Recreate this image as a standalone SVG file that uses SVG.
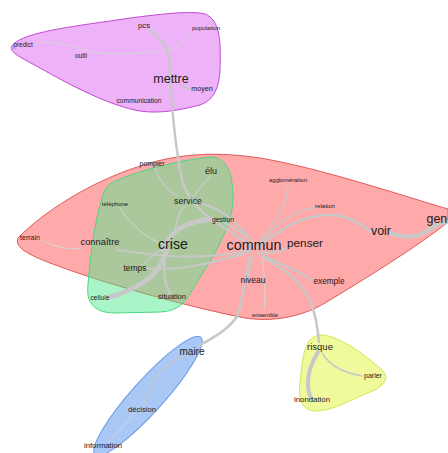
<svg xmlns="http://www.w3.org/2000/svg" width="448" height="453" viewBox="0 0 448 453">
<style>
.e{fill:none;stroke:#c8c8c8;stroke-linecap:round}
.f{fill:none;stroke:#d6d6d6;stroke-width:1;stroke-linecap:round}
text{font-family:"Liberation Sans",Arial,sans-serif;fill:#1a1a1a;text-anchor:middle}
</style>
<rect width="448" height="453" fill="#ffffff"/>
<g id="halos">
<path id="halo-purple" d="M12,46 C 20,34 60,28 110,21 C 150,15 190,10 205,14 C 220,20 221,40 220,70 C 219,88 214,100 200,105 C 180,110 160,114 140,111 C 110,106 70,85 40,68 C 22,58 8,52 12,46 Z" fill="#eeb2f8" stroke="#c24ad2" stroke-width="1"/>
<path id="halo-red" d="M18,238 C 40,215 90,180 150,163 C 185,153 220,152 260,158 C 320,168 400,195 448,209 L 448,222 C 420,245 360,282 325,303 C 300,318 270,322 245,318 C 180,305 100,282 50,263 C 30,255 14,248 18,238 Z" fill="#ffaaaa" stroke="#e05a5a" stroke-width="1"/>
<path id="halo-green" d="M113,182 C 140,170 180,160 210,157 C 228,157 233,175 233,200 C 232,225 215,255 195,285 C 188,298 182,311 160,312 L 115,313 C 92,313 86,300 88,285 C 90,255 96,215 103,195 C 105,188 108,185 113,182 Z" fill="#4aea8a" fill-opacity="0.47" stroke="#4ad880" stroke-width="1"/>
<ellipse id="halo-blue" cx="148" cy="396" rx="79" ry="16" transform="rotate(-48 148 396)" fill="#a9c8f5" stroke="#6a9be6" stroke-width="1"/>
<path id="halo-yellow" d="M322,335 C 340,336 365,355 382,370 C 390,378 385,386 370,392 C 350,400 335,410 317,411 C 302,411 298,400 300,383 C 302,365 303,348 310,340 C 314,336 318,335 322,335 Z" fill="#f0f99c" stroke="#d2e850" stroke-width="1"/>
</g>
<g id="connectors">
<path class="f" d="M35,43 C 60,40 75,48 90,52 C 110,55 140,54 170,50 C 180,45 185,40 192,33"/>
<path class="f" d="M150,100 C 160,95 165,90 170,86"/>
<path class="e" stroke-width="2.5" d="M150,30 C 165,42 170,50 170,75 L 172,105 C 174,130 178,160 182,180 C 186,195 200,215 225,228 C 240,238 248,244 253,248"/>
<path class="e" stroke-width="2" d="M182,84 C 185,88 188,89 192,89"/>
<path class="e" stroke-width="5" d="M163,250 C 168,235 180,222 212,219"/>
<path class="e" stroke-width="5" d="M167,250 C 160,270 150,285 110,297"/>
<path class="e" stroke-width="2.5" d="M166,252 C 162,270 165,285 170,293"/>
<path class="e" stroke-width="1.5" d="M160,250 C 150,258 145,262 142,265"/>
<path class="e" stroke-width="2" d="M175,235 C 176,220 180,210 185,206"/>
<path class="f" d="M120,208 C 130,225 150,240 162,244"/>
<path class="e" stroke-width="1.5" d="M192,198 C 198,190 205,182 210,177"/>
<path class="e" stroke-width="1.5" d="M155,168 C 160,180 165,190 178,196"/>
<path class="e" stroke-width="2" d="M200,203 C 220,208 238,222 250,240"/>
<path class="e" stroke-width="2" d="M225,223 C 240,230 248,238 252,242"/>
<path class="e" stroke-width="2" d="M118,250 C 150,255 200,262 250,250"/>
<path class="e" stroke-width="2" d="M145,268 C 180,272 215,262 250,252"/>
<path class="f" d="M38,238 C 55,248 70,250 82,248"/>
<path class="e" stroke-width="1.5" d="M258,244 C 270,225 285,215 288,186"/>
<path class="e" stroke-width="1.5" d="M258,246 C 275,225 290,212 315,207"/>
<path class="e" stroke-width="2.5" d="M256,248 C 280,230 300,215 330,215 C 350,215 360,225 372,232"/>
<path class="e" stroke-width="4" d="M390,233 C 405,238 415,238 425,232 C 435,226 440,222 448,222"/>
<path class="e" stroke-width="2" d="M258,252 C 275,255 282,250 290,247"/>
<path class="e" stroke-width="2" d="M260,255 C 285,265 300,272 312,280"/>
<path class="e" stroke-width="2" d="M252,256 C 250,265 248,272 248,277"/>
<path class="f" d="M262,258 C 266,280 265,300 264,310"/>
<path class="e" stroke-width="2.5" d="M262,256 C 285,270 300,280 310,300 C 316,315 318,330 319,342"/>
<path class="e" stroke-width="2.5" d="M250,258 C 245,280 242,300 238,315 C 230,328 215,337 200,345"/>
<path class="e" stroke-width="1.5" d="M182,356 C 170,362 158,372 153,382 C 148,392 145,400 143,405"/>
<path class="f" d="M135,412 C 125,425 115,435 108,442"/>
<path class="e" stroke-width="4" d="M318,352 C 312,362 308,372 308,382 C 308,390 310,396 311,398"/>
<path class="e" stroke-width="1.5" d="M322,353 C 330,365 340,372 362,376"/>
</g>
<g id="node-pcs"><text x="144" y="28" font-size="7.7">pcs</text></g>
<g id="node-population"><text x="206" y="30" font-size="6.1">population</text></g>
<g id="node-predict"><text x="23" y="47" font-size="6.5">predict</text></g>
<g id="node-outil"><text x="81" y="58" font-size="6.5">outil</text></g>
<g id="node-mettre"><text x="171" y="83" font-size="12.5">mettre</text></g>
<g id="node-moyen"><text x="202" y="91" font-size="7.2">moyen</text></g>
<g id="node-communication"><text x="139" y="103" font-size="6.7">communication</text></g>
<g id="node-pompier"><text x="152" y="166" font-size="6.9">pompier</text></g>
<g id="node-elu"><text x="211" y="174" font-size="9">élu</text></g>
<g id="node-service"><text x="188" y="204" font-size="8.8">service</text></g>
<g id="node-telephone"><text x="115" y="206" font-size="6">téléphone</text></g>
<g id="node-gestion"><text x="223" y="222" font-size="6.8">gestion</text></g>
<g id="node-crise"><text x="173" y="249" font-size="14.2">crise</text></g>
<g id="node-connaitre"><text x="100" y="245" font-size="9.4">connaître</text></g>
<g id="node-terrain"><text x="30" y="240" font-size="7">terrain</text></g>
<g id="node-temps"><text x="135" y="271" font-size="8.5">temps</text></g>
<g id="node-cellule"><text x="100" y="300" font-size="6.7">cellule</text></g>
<g id="node-situation"><text x="172" y="299" font-size="7.5">situation</text></g>
<g id="node-commun"><text x="254" y="250" font-size="14.3">commun</text></g>
<g id="node-penser"><text x="305" y="247" font-size="11.8">penser</text></g>
<g id="node-voir"><text x="381" y="235" font-size="12.4">voir</text></g>
<g id="node-gen"><text x="426.5" y="223" font-size="12.4" style="text-anchor:start">gen</text></g>
<g id="node-agglomeration"><text x="288" y="182" font-size="6">agglomération</text></g>
<g id="node-relation"><text x="325" y="208" font-size="6.1">relation</text></g>
<g id="node-niveau"><text x="253" y="283" font-size="8.5">niveau</text></g>
<g id="node-exemple"><text x="329" y="284" font-size="8.2">exemple</text></g>
<g id="node-ensemble"><text x="265" y="317" font-size="6">ensemble</text></g>
<g id="node-maire"><text x="192" y="355" font-size="10">maire</text></g>
<g id="node-decision"><text x="142" y="412" font-size="7.6">décision</text></g>
<g id="node-information"><text x="103" y="448" font-size="7.7">information</text></g>
<g id="node-risque"><text x="320" y="350" font-size="9.5">risque</text></g>
<g id="node-parler"><text x="373" y="378" font-size="7">parler</text></g>
<g id="node-inondation"><text x="312" y="402" font-size="7.8">inondation</text></g>
</svg>
